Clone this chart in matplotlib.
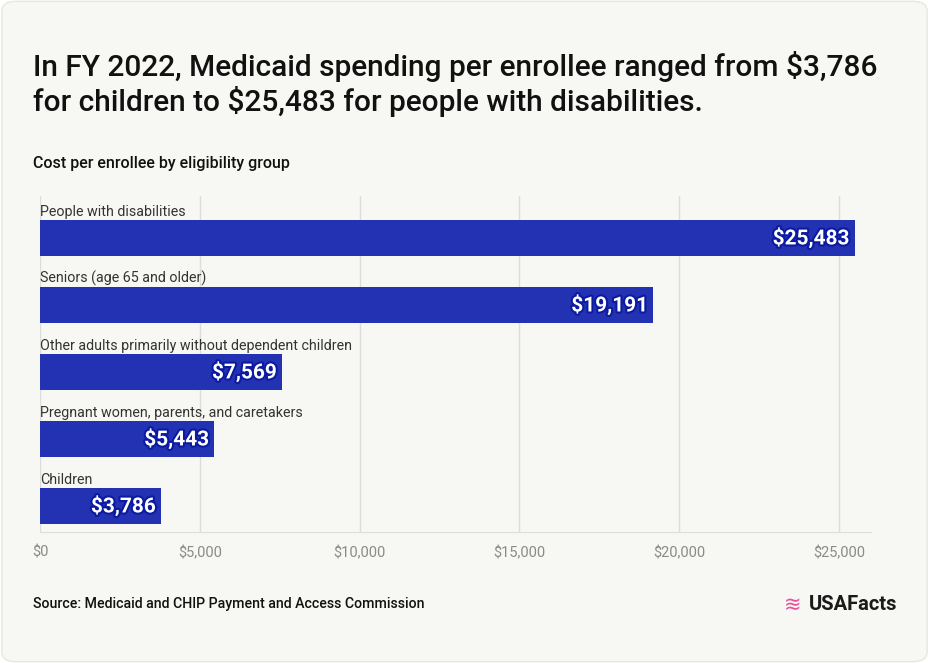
import matplotlib.pyplot as plt
import matplotlib.patheffects as pe
from matplotlib.patches import FancyBboxPatch

groups = ['Children', 'Pregnant women, parents, and caretakers',
          'Other adults primarily without dependent children',
          'Seniors (age 65 and older)', 'People with disabilities']
cost = [3786, 5443, 7569, 19191, 25483]
ticks = [0, 5000, 10000, 15000, 20000, 25000]

bar_col = '#2331b3'
bg = '#f7f7f3'
font = 'Roboto'

fig = plt.figure(figsize=(9.29, 6.63), dpi=100)
fig.patch.set_facecolor('white')
card = FancyBboxPatch((0.002, 0.002), 0.996, 0.996, boxstyle='round,pad=0,rounding_size=0.015',
                      transform=fig.transFigure, facecolor=bg, edgecolor='#e6e6e2', lw=1,
                      zorder=-10)
fig.patches.append(card)

ax = fig.add_axes([0.0431, 0.1976, 0.8945, 0.5068])
ax.set_facecolor('none')
ax.barh(range(len(cost)), cost, height=0.537, color=bar_col, zorder=2)

for i, (g, c) in enumerate(zip(groups, cost)):
    ax.text(0, i + 0.29, g, ha='left', va='bottom', fontsize=10.3, color='#333333', family=font)
    t = ax.text(c - 160, i, '${:,}'.format(c), ha='right', va='center', fontsize=15,
                color='white', weight='bold', family=font, zorder=3)
    t.set_path_effects([pe.withStroke(linewidth=3, foreground='#0b1aa0')])

ax.set_xlim(0, 26000)
ax.set_ylim(-0.388, 4.627)
ax.set_xticks(ticks)
ax.set_xticklabels(['${:,}'.format(v) for v in ticks], family=font, fontsize=10.5, color='#8a8a8a')
ax.tick_params(axis='x', length=0, pad=10)
ax.set_yticks([])
ax.grid(axis='x', color='#dddddb', lw=1, zorder=0)
for s in ['top', 'right', 'left']:
    ax.spines[s].set_visible(False)
ax.spines['bottom'].set_color('#dddddb')

fig.text(0.0355, 0.873, 'In FY 2022, Medicaid spending per enrollee ranged from $3,786\n'
         'for children to $25,483 for people with disabilities.',
         ha='left', va='center', fontsize=21.5, weight='medium', family=font,
         color='#111111', linespacing=1.15)
fig.text(0.0355, 0.754, 'Cost per enrollee by eligibility group', ha='left', va='center',
         fontsize=11.5, weight='medium', family=font, color='#111111')
fig.text(0.0355, 0.089, 'Source: Medicaid and CHIP Payment and Access Commission', ha='left',
         va='center', fontsize=10.2, weight='medium', family=font, color='#111111')
fig.text(0.966, 0.088, 'USAFacts', ha='right', va='center', fontsize=14.5, weight='bold',
         family=font, color='#1a1a1a')
fig.text(0.862, 0.088, '≋', ha='right', va='center', fontsize=15, color='#e8529a',
         family='DejaVu Sans')

fig.savefig('out.png', dpi=100, facecolor='white')
